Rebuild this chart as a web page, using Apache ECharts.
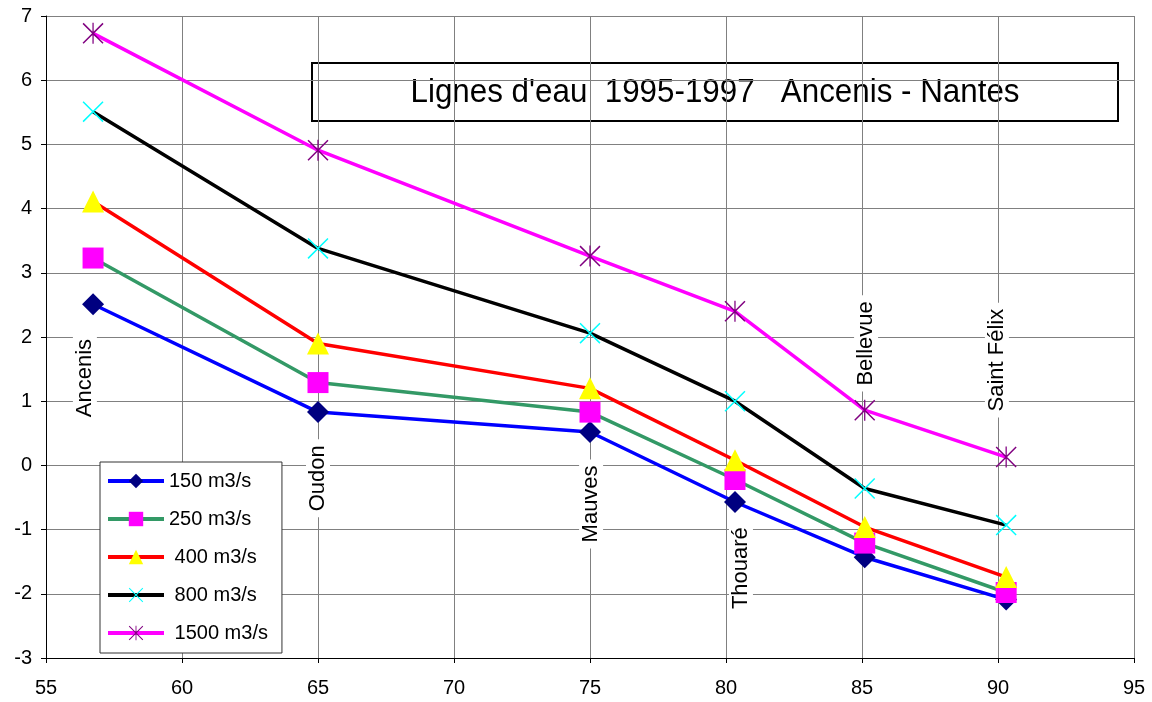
<!DOCTYPE html>
<html><head><meta charset="utf-8">
<script src="https://cdn.jsdelivr.net/npm/echarts@6/dist/echarts.min.js"></script>
<style>html,body{margin:0;padding:0;background:#fff}#c{width:1152px;height:702px}</style>
</head><body><div id="c"></div>
<script>
// Station kilometre positions and names
const stations = ['Ancenis', 'Oudon', 'Mauves', 'Thouaré', 'Bellevue', 'Saint Félix'];
const stationKm = [56.73, 65.0, 75.0, 80.33, 85.1, 90.3];
// Label anchor (x km, y value) for station names
const labelKm = [56.43, 65.0, 75.04, 80.55, 85.15, 89.96];
const labelLevel = [1.36, -0.2, -0.6, -1.6, 1.9, 1.64];

const seriesNames = ['150 m3/s', '250 m3/s', ' 400 m3/s', ' 800 m3/s', ' 1500 m3/s'];
const q150 = [2.51, 0.83, 0.52, -0.57, -1.43, -2.09];
const q250 = [3.23, 1.29, 0.83, -0.22, -1.21, -1.98];
const q400 = [4.11, 1.90, 1.20, 0.08, -0.96, -1.74];
const q800 = [5.51, 3.38, 2.06, 1.00, -0.36, -0.93];
const q1500 = [6.73, 4.91, 3.26, 2.40, 0.86, 0.13];

const xTicks = [55, 60, 65, 70, 75, 80, 85, 90, 95];
const yTicks = [-3, -2, -1, 0, 1, 2, 3, 4, 5, 6, 7];

const XSYM = 'path://M0,5 L5,0 L100,95 L95,100 Z M95,0 L100,5 L5,100 L0,95 Z';
const STAR = 'path://M0,5 L5,0 L100,95 L95,100 Z M95,0 L100,5 L5,100 L0,95 Z M47,0 L53,0 L53,100 L47,100 Z';

function pts(vals) { return stationKm.map((x, i) => [x, vals[i]]); }

const styles = [
  {vals: q150, line: '#0000FF', sym: 'diamond', symCol: '#000080', size: 22},
  {vals: q250, line: '#339966', sym: 'rect', symCol: '#FF00FF', size: 21},
  {vals: q400, line: '#FF0000', sym: 'triangle', symCol: '#FFFF00', size: 22},
  {vals: q800, line: '#000000', sym: XSYM, symCol: '#00FFFF', size: 21},
  {vals: q1500, line: '#FF00FF', sym: STAR, symCol: '#800080', size: 21}
];

const series = styles.map((s, i) => ({
  name: seriesNames[i],
  type: 'line',
  data: pts(s.vals),
  symbol: s.sym,
  symbolSize: s.size,
  showAllSymbol: true,
  lineStyle: {color: s.line, width: 3.5},
  itemStyle: {color: s.symCol, borderWidth: 0},
  emphasis: {disabled: true},
  z: 3 + i
}));

series.push({
  name: 'stations',
  type: 'scatter',
  data: labelKm.map((x, i) => ({value: [x, labelLevel[i]], name: stations[i]})),
  symbolSize: 1,
  itemStyle: {color: '#ffffff', opacity: 1},
  silent: true,
  z: 2,
  label: {
    show: true, position: 'inside', rotate: 90,
    formatter: p => p.name,
    fontFamily: 'Liberation Sans, Arial, sans-serif', fontSize: 22, color: '#000000',
    opacity: 1,
    backgroundColor: '#fff', padding: [1, 6]
  }
});

const chart = echarts.init(document.getElementById('c'), null, {renderer: 'canvas'});
chart.setOption({
  animation: false,
  backgroundColor: '#fff',
  textStyle: {fontFamily: 'Liberation Sans, Arial, sans-serif'},
  grid: {left: 46, right: 18, top: 16, bottom: 44, containLabel: false},
  xAxis: {
    type: 'value', min: xTicks[0], max: xTicks[xTicks.length - 1], interval: 5,
    axisLine: {show: true, onZero: false, lineStyle: {color: '#000', width: 1}},
    axisTick: {show: true, length: 5, lineStyle: {color: '#000'}},
    splitLine: {show: true, lineStyle: {color: '#808080', width: 1}},
    axisLabel: {color: '#000', fontSize: 20, margin: 20}
  },
  yAxis: {
    type: 'value', min: yTicks[0], max: yTicks[yTicks.length - 1], interval: 1,
    axisLine: {show: true, onZero: false, lineStyle: {color: '#000', width: 1}},
    axisTick: {show: true, length: 5, lineStyle: {color: '#000'}},
    splitLine: {show: true, lineStyle: {color: '#808080', width: 1}},
    axisLabel: {color: '#000', fontSize: 20, margin: 14}
  },
  legend: {
    data: seriesNames,
    orient: 'vertical',
    left: 100, top: 462,
    width: 182,
    backgroundColor: '#fff',
    borderColor: '#333', borderWidth: 1,
    padding: [9, 14, 10, 6],
    itemWidth: 56, itemHeight: 18, itemGap: 18,
    lineStyle: {width: 4},
    itemStyle: {borderWidth: 0},
    textStyle: {fontSize: 20, color: '#000', fontFamily: 'Liberation Sans, Arial, sans-serif'},
    selectedMode: false
  },
  graphic: [{
    type: 'group', left: 311, top: 62, z: 100,
    children: [
      {type: 'rect', shape: {x: 0, y: 0, width: 806, height: 58},
       style: {fill: '#fff', stroke: '#000', lineWidth: 2}},
      {type: 'text', x: 403, y: 30, scaleX: 0.95, originX: 0,
       style: {text: "Lignes d'eau  1995-1997   Ancenis - Nantes", fill: '#000',
               font: '33px "Liberation Sans", Arial, sans-serif',
               align: 'center', verticalAlign: 'middle'}}
    ]
  }],
  series: series
});
</script></body></html>
